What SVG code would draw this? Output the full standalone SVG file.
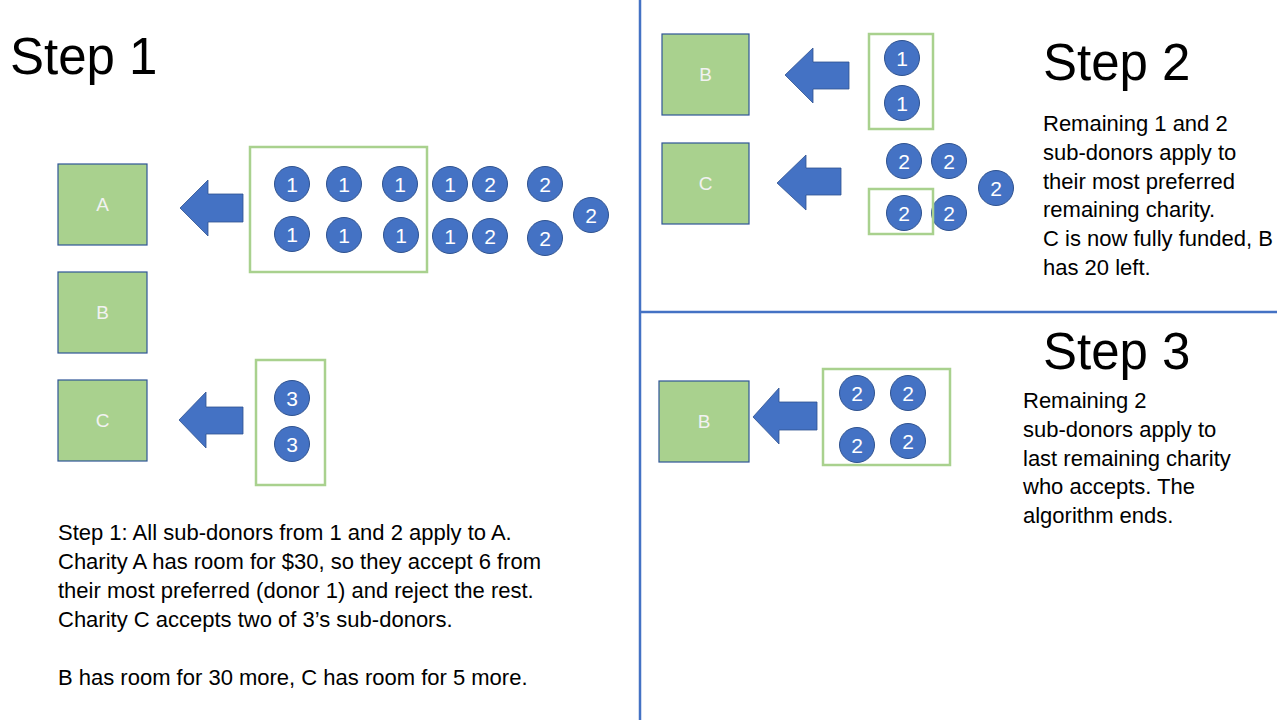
<svg xmlns="http://www.w3.org/2000/svg" width="1280" height="720" viewBox="0 0 1280 720">
<defs>
<style>
.charity{fill:#A9D18E;stroke:#2F5597;stroke-width:1.2}
.clabel{font-family:"Liberation Sans",Arial,sans-serif;font-size:19px;fill:#F2F2F2;text-anchor:middle}
.donor{fill:#4472C4;stroke:#2F528F;stroke-width:1}
.dlabel{font-family:"Liberation Sans",Arial,sans-serif;font-size:21px;fill:#FFFFFF;text-anchor:middle}
.grp{fill:none;stroke:#A9D18E;stroke-width:2.5}
.arrow{fill:#4472C4;stroke:#2F528F;stroke-width:0.8}
.divider{stroke:#4472C4;stroke-width:2.5;fill:none}
.title{font-family:"Liberation Sans",Arial,sans-serif;font-size:51px;fill:#000}
.body{font-family:"Liberation Sans",Arial,sans-serif;font-size:22px;fill:#000}
</style>
<g id="d"><circle class="donor" r="17.5"/></g>
</defs>
<rect width="1280" height="720" fill="#FFFFFF"/>

<g id="dividers">
<line class="divider" x1="640" y1="0" x2="640" y2="720"/>
<line class="divider" x1="640" y1="312" x2="1277" y2="312"/>
</g>

<!-- Step 1 -->
<text class="title" x="10" y="74">Step 1</text>
<g id="s1-A"><rect class="charity" x="58" y="164" width="89" height="81"/><text class="clabel" x="102.5" y="211">A</text></g>
<g id="s1-B"><rect class="charity" x="58" y="272" width="89" height="81"/><text class="clabel" x="102.5" y="319">B</text></g>
<g id="s1-C"><rect class="charity" x="58" y="380" width="89" height="81"/><text class="clabel" x="102.5" y="427">C</text></g>

<g id="connectors">
<polygon class="arrow" points="180,208 208,180 208,194 243,194 243,222 208,222 208,236"/>
<polygon class="arrow" points="179,420 206,392 206,407 243,407 243,434 206,434 206,448"/>
<polygon class="arrow" points="785,75 813,48 813,62 849,62 849,89 813,89 813,103"/>
<polygon class="arrow" points="777,183 806,155 806,168 841,168 841,195 806,195 806,210"/>
<polygon class="arrow" points="753,417 779,388 779,402 817,402 817,430 779,430 779,444"/>
</g>

<g id="s1-groupA"><rect class="grp" x="250" y="147" width="177" height="125"/></g>
<g id="s1-donors">
<use href="#d" x="292" y="184"/><text class="dlabel" x="292" y="191.5">1</text>
<use href="#d" x="344" y="184"/><text class="dlabel" x="344" y="191.5">1</text>
<use href="#d" x="400" y="184"/><text class="dlabel" x="400" y="191.5">1</text>
<use href="#d" x="450" y="184"/><text class="dlabel" x="450" y="191.5">1</text>
<use href="#d" x="490" y="184"/><text class="dlabel" x="490" y="191.5">2</text>
<use href="#d" x="545" y="184"/><text class="dlabel" x="545" y="191.5">2</text>
<use href="#d" x="292" y="234"/><text class="dlabel" x="292" y="241.5">1</text>
<use href="#d" x="344" y="235"/><text class="dlabel" x="344" y="242.5">1</text>
<use href="#d" x="401" y="235"/><text class="dlabel" x="401" y="242.5">1</text>
<use href="#d" x="450" y="236"/><text class="dlabel" x="450" y="243.5">1</text>
<use href="#d" x="490" y="236"/><text class="dlabel" x="490" y="243.5">2</text>
<use href="#d" x="545" y="238"/><text class="dlabel" x="545" y="245.5">2</text>
<use href="#d" x="591" y="215"/><text class="dlabel" x="591" y="222.5">2</text>
</g>
<g id="s1-groupC"><rect class="grp" x="256" y="360" width="69" height="125"/>
<use href="#d" x="292" y="398"/><text class="dlabel" x="292" y="405.5">3</text>
<use href="#d" x="292" y="444"/><text class="dlabel" x="292" y="451.5">3</text>
</g>

<g id="s1-text">
<text class="body" x="58" y="540">Step 1: All sub-donors from 1 and 2 apply to A.</text>
<text class="body" x="58" y="569">Charity A has room for $30, so they accept 6 from</text>
<text class="body" x="58" y="598">their most preferred (donor 1) and reject the rest.</text>
<text class="body" x="58" y="627">Charity C accepts two of 3’s sub-donors.</text>
<text class="body" x="58" y="685">B has room for 30 more, C has room for 5 more.</text>
</g>

<!-- Step 2 -->
<text class="title" x="1043" y="80">Step 2</text>
<g id="s2-B"><rect class="charity" x="662" y="34" width="87" height="81"/><text class="clabel" x="705.5" y="81">B</text></g>
<g id="s2-C"><rect class="charity" x="662" y="143" width="87" height="81"/><text class="clabel" x="705.5" y="190">C</text></g>
<g id="s2-groupB"><rect class="grp" x="869" y="34" width="64" height="95"/>
<use href="#d" x="902" y="58"/><text class="dlabel" x="902" y="65.5">1</text>
<use href="#d" x="902" y="103"/><text class="dlabel" x="902" y="110.5">1</text>
</g>
<g id="s2-donors">
<use href="#d" x="904" y="161"/><text class="dlabel" x="904" y="168.5">2</text>
<use href="#d" x="949" y="161"/><text class="dlabel" x="949" y="168.5">2</text>
<use href="#d" x="996" y="188"/><text class="dlabel" x="996" y="195.5">2</text>
<use href="#d" x="949" y="213"/><text class="dlabel" x="949" y="220.5">2</text>
</g>
<g id="s2-groupC"><rect class="grp" x="869" y="189" width="64" height="45"/>
<use href="#d" x="904" y="213"/><text class="dlabel" x="904" y="220.5">2</text>
</g>
<g id="s2-text">
<text class="body" x="1043" y="131">Remaining 1 and 2</text>
<text class="body" x="1043" y="160">sub-donors apply to</text>
<text class="body" x="1043" y="189">their most preferred</text>
<text class="body" x="1043" y="217">remaining charity.</text>
<text class="body" x="1043" y="246">C is now fully funded, B</text>
<text class="body" x="1043" y="275">has 20 left.</text>
</g>

<!-- Step 3 -->
<text class="title" x="1043" y="369">Step 3</text>
<g id="s3-B"><rect class="charity" x="659" y="381" width="90" height="81"/><text class="clabel" x="704" y="428">B</text></g>
<g id="s3-group"><rect class="grp" x="823" y="369" width="127" height="96"/>
<use href="#d" x="857" y="393"/><text class="dlabel" x="857" y="400.5">2</text>
<use href="#d" x="908" y="393"/><text class="dlabel" x="908" y="400.5">2</text>
<use href="#d" x="857" y="445"/><text class="dlabel" x="857" y="452.5">2</text>
<use href="#d" x="908" y="441"/><text class="dlabel" x="908" y="448.5">2</text>
</g>
<g id="s3-text">
<text class="body" x="1023" y="408">Remaining 2</text>
<text class="body" x="1023" y="437">sub-donors apply to</text>
<text class="body" x="1023" y="466">last remaining charity</text>
<text class="body" x="1023" y="494">who accepts. The</text>
<text class="body" x="1023" y="523">algorithm ends.</text>
</g>
</svg>
